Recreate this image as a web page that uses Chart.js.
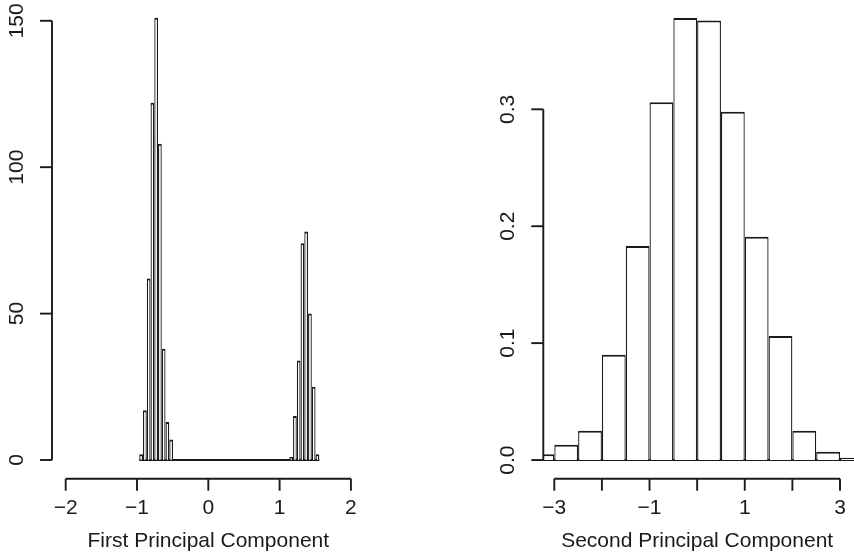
<!DOCTYPE html>
<html><head><meta charset="utf-8">
<script src="https://cdn.jsdelivr.net/npm/chart.js@4/dist/chart.umd.min.js"></script>
<style>
html,body{margin:0;padding:0;background:#fff;}
#wrap{position:relative;width:854px;height:557px;overflow:hidden;}
canvas{position:absolute;left:0;top:0;}
</style></head><body>
<div id="wrap"><canvas id="c1" width="854" height="557"></canvas><canvas id="c2" width="854" height="557"></canvas></div>
<script>
// ---- Left panel: First Principal Component (counts) ----
const pc1BinStart = -0.968;
const pc1BinWidth = 0.0526;
const pc1Counts = [2, 17, 62, 122, 151, 108, 38, 13, 7,
  0, 0, 0, 0, 0, 0, 0, 0, 0, 0, 0, 0, 0, 0, 0, 0,
  0, 0, 0, 0, 0, 0, 0, 0, 0, 0, 0, 0, 0, 0, 0,
  1, 15, 34, 74, 78, 50, 25, 2];
const pc1XTicks = [-2, -1, 0, 1, 2];
const pc1XLabels = ['\u22122', '\u22121', '0', '1', '2'];
const pc1YTicks = [0, 50, 100, 150];
const pc1YLabels = ['0', '50', '100', '150'];
const pc1Title = 'First Principal Component';

// ---- Right panel: Second Principal Component (density) ----
const pc2BinLefts = [-3.5, -3, -2.5, -2, -1.5, -1, -0.5, 0, 0.5, 1, 1.5, 2, 2.5, 3];
const pc2BinWidth = 0.5;
const pc2Density = [0.005, 0.013, 0.025, 0.090, 0.183, 0.306, 0.378, 0.376, 0.298, 0.191, 0.106, 0.025, 0.007, 0.002];
const pc2XTicks = [-3, -2, -1, 0, 1, 2, 3];
const pc2XLabels = ['\u22123', '', '\u22121', '', '1', '', '3'];
const pc2YTicks = [0, 0.1, 0.2, 0.3];
const pc2YLabels = ['0.0', '0.1', '0.2', '0.3'];
const pc2Title = 'Second Principal Component';

const INK = '#1a1a1a';
const FONT = '21px "Liberation Sans", Arial, Helvetica, sans-serif';
const TICK = 12;

const rAxes = {
  id: 'rAxes',
  afterDraw(chart, args, o) {
    const {ctx, chartArea: ca, scales: {x, y}} = chart;
    ctx.save();
    ctx.strokeStyle = INK; ctx.fillStyle = INK; ctx.lineWidth = 1.9;
    ctx.font = FONT;
    const seg = (a, b, c, d) => { ctx.beginPath(); ctx.moveTo(a, b); ctx.lineTo(c, d); ctx.stroke(); };
    // x axis
    const ay = ca.bottom + 1;
    const xa = x.getPixelForValue(o.xTicks[0]), xb = x.getPixelForValue(o.xTicks[o.xTicks.length - 1]);
    seg(xa, ay, xb, ay);
    ctx.textAlign = 'center'; ctx.textBaseline = 'middle';
    o.xTicks.forEach((v, i) => {
      const px = x.getPixelForValue(v);
      seg(px, ay, px, ay + TICK);
      if (o.xLabels[i]) ctx.fillText(o.xLabels[i], px, ay + 30);
    });
    ctx.textBaseline = 'alphabetic';
    ctx.fillText(o.title, (xa + xb) / 2, ay + 68);
    // y axis
    const ax = ca.left;
    const ya = y.getPixelForValue(o.yTicks[0]), yb = y.getPixelForValue(o.yTicks[o.yTicks.length - 1]);
    seg(ax, ya, ax, yb);
    o.yTicks.forEach((v, i) => {
      const py = y.getPixelForValue(v);
      seg(ax, py, ax - TICK, py);
      ctx.save();
      ctx.translate(ax - 35, py);
      ctx.rotate(-Math.PI / 2);
      ctx.textAlign = 'center'; ctx.textBaseline = 'middle';
      ctx.fillText(o.yLabels[i], 0, 0);
      ctx.restore();
    });
    ctx.restore();
  }
};

function histChart(id, points, edges, xmin, xmax, ymin, ymax, xTicks, pad, axOpts) {
  return new Chart(document.getElementById(id), {
    data: {
      datasets: [
        {
          type: 'bar', data: points,
          backgroundColor: '#ffffff', borderColor: INK,
          borderWidth: {left: 1.3, right: 1.3, top: 2, bottom: 0},
          borderSkipped: false,
          barPercentage: 1, categoryPercentage: 1, inflateAmount: 0
        },
        {
          type: 'line', data: edges.map(e => ({x: e, y: 0})),
          borderColor: INK, borderWidth: 2, pointRadius: 0
        }
      ]
    },
    options: {
      responsive: false, animation: false, devicePixelRatio: 1,
      layout: {padding: pad},
      plugins: {legend: {display: false}, tooltip: {enabled: false}, rAxes: axOpts},
      scales: {
        x: {type: 'linear', display: false, min: xmin, max: xmax, offset: false, grid: {offset: false},
            afterBuildTicks: s => { s.ticks = xTicks.map(v => ({value: v})); }},
        y: {type: 'linear', display: false, min: ymin, max: ymax}
      }
    },
    plugins: [rAxes]
  });
}

// left
const pc1Points = pc1Counts.map((c, i) => ({x: pc1BinStart + (i + 0.5) * pc1BinWidth, y: c}));
const pc1Edges = [pc1BinStart, pc1BinStart + pc1Counts.length * pc1BinWidth];
histChart('c1', pc1Points, pc1Edges, -2.192, 2.192, -6.04, 157.1, pc1XTicks,
  {left: 52, right: 854 - 364.6, top: 0, bottom: 557 - 477.7},
  {xTicks: pc1XTicks, xLabels: pc1XLabels, yTicks: pc1YTicks, yLabels: pc1YLabels, title: pc1Title});

// right
const pc2Points = pc2BinLefts.map((l, i) => ({x: l + pc2BinWidth / 2, y: pc2Density[i]}));
const pc2Edges = [pc2BinLefts[0], pc2BinLefts[pc2BinLefts.length - 1] + pc2BinWidth];
histChart('c2', pc2Points, pc2Edges, -3.231, 3.294, -0.0151, 0.3935, pc2XTicks,
  {left: 543.3, right: 0, top: 0, bottom: 557 - 477.7},
  {xTicks: pc2XTicks, xLabels: pc2XLabels, yTicks: pc2YTicks, yLabels: pc2YLabels, title: pc2Title});
</script>
</body></html>
